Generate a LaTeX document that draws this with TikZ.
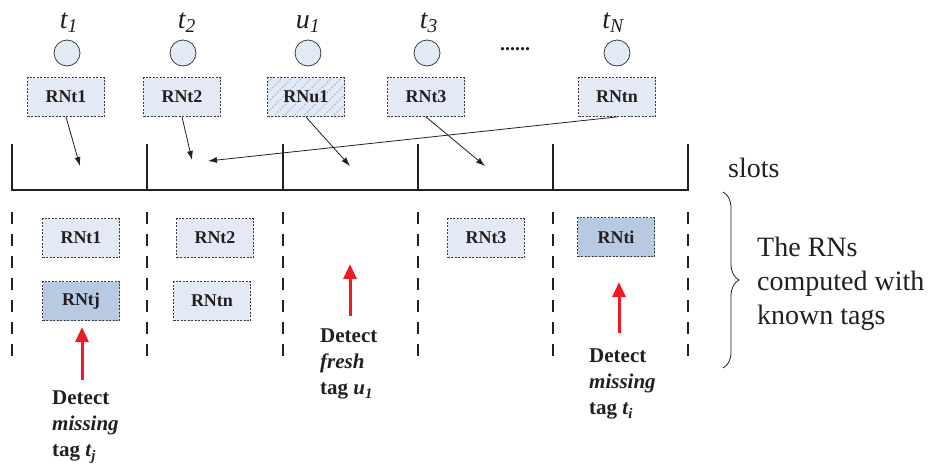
\documentclass[tikz,border=0pt]{standalone}
\usepackage{fontspec}
\setmainfont{LiberationSerif}[Extension=.ttf, UprightFont=*-Regular, BoldFont=*-Bold, ItalicFont=*-Italic, BoldItalicFont=*-BoldItalic]
\usetikzlibrary{arrows.meta,patterns.meta,decorations.pathreplacing}
\definecolor{boxfill}{RGB}{228,234,245}
\definecolor{darkfill}{RGB}{184,201,226}
\definecolor{hatch}{RGB}{172,192,218}
\definecolor{edge}{RGB}{60,60,60}
\definecolor{ink}{RGB}{35,31,32}
\definecolor{alert}{RGB}{236,28,36}
\begin{document}
\begin{tikzpicture}[x=1pt,y=-1pt, text=ink,
  rnbox/.style={draw=edge, dash pattern=on 2pt off 1.5pt, line width=0.8pt,
    fill=boxfill, minimum width=77pt, minimum height=39pt, inner sep=0pt,
    font=\fontsize{18}{20}\selectfont\bfseries},
  hitbox/.style={rnbox, fill=darkfill},
  freshbox/.style={rnbox, preaction={fill=boxfill},
    pattern={Lines[angle=45,distance=7pt,line width=1.1pt]}, pattern color=hatch},
  tagdot/.style={circle, draw=edge, line width=0.8pt, fill=boxfill,
    minimum size=26pt, inner sep=0pt},
  taglabel/.style={font=\fontsize{28}{30}\selectfont\itshape, inner sep=0pt, anchor=base},
  slotline/.style={draw=ink, line width=1.6pt},
  sepline/.style={draw=ink, line width=1.8pt, dash pattern=on 12pt off 10pt},
  pointer/.style={-{Latex[length=9pt,width=6pt]}, line width=0.8pt, draw=ink},
  detect/.style={-{Triangle[length=15pt,width=13pt]}, line width=3pt, draw=alert},
  note/.style={font=\fontsize{21}{26}\selectfont\bfseries, align=left,
    anchor=north west, inner sep=0pt},
  side/.style={font=\fontsize{28}{34}\selectfont, align=left, inner sep=0pt}]

\useasboundingbox (0,0) rectangle (931,469);

% tags and their labels
\node[taglabel] (l1) at (69,28) {t\textsubscript{1}};
\node[taglabel] (l2) at (187,28) {t\textsubscript{2}};
\node[taglabel] (lu) at (308,28) {u\textsubscript{1}};
\node[taglabel] (l3) at (429,28) {t\textsubscript{3}};
\node[taglabel] (ln) at (613,28) {t\textsubscript{N}};

\node[tagdot] (c1) at (67,53) {};
\node[tagdot] (c2) at (183,53) {};
\node[tagdot] (cu) at (308,53) {};
\node[tagdot] (c3) at (427,53) {};
\node[tagdot] (cn) at (617,53) {};
\node[font=\fontsize{20}{22}\selectfont\bfseries, inner sep=0pt] (dots) at (515,49) {......};

% random numbers sent by the tags
\node[rnbox]    (a1) at (66,97)  {RNt1};
\node[rnbox]    (a2) at (182,97) {RNt2};
\node[freshbox] (au) at (306,97) {RNu1};
\node[rnbox]    (a3) at (426,97) {RNt3};
\node[rnbox]    (an) at (617,97) {RNtn};

% slots
\draw[slotline] (12,144) |- (688,190) -- (688,144);
\foreach \x in {147,283,418,553} \draw[slotline] (\x,144) -- (\x,190);
\node[side, anchor=base west] (slots) at (728,177) {slots};

% where each random number lands
\coordinate (s1)  at (80,166);
\coordinate (s2)  at (192,160);
\coordinate (s2n) at (208,161);
\coordinate (s3)  at (350,166);
\coordinate (s4)  at (485,166);
\draw[pointer] (a1.south) -- (s1);
\draw[pointer] (a2.south) -- (s2);
\draw[pointer] (an.south) -- (s2n);
\draw[pointer] (au.south) -- (s3);
\draw[pointer] (a3.south) -- (s4);

% expected random numbers per slot
\foreach \x in {12,147,283,418,553,688} \draw[sepline] (\x,212) -- (\x,363);
\node[rnbox]  (e1) at (81,238)  {RNt1};
\node[hitbox] (ej) at (81,301)  {RNtj};
\node[rnbox]  (e2) at (215,238) {RNt2};
\node[rnbox]  (en) at (212,301) {RNtn};
\node[rnbox]  (e3) at (486,238) {RNt3};
\node[hitbox] (ei) at (616,237) {RNti};

% detections
\coordinate (d1) at (82,380);  \coordinate (d1t) at (82,327);
\coordinate (d3) at (350,316); \coordinate (d3t) at (350,264);
\coordinate (d5) at (619,333); \coordinate (d5t) at (619,282);
\draw[detect] (d1) -- (d1t);
\draw[detect] (d3) -- (d3t);
\draw[detect] (d5) -- (d5t);

\node[note] (n1) at (52,391) {Detect\\\textit{missing}\\tag \textit{t\textsubscript{j}}};
\node[note] (n3) at (320,329) {Detect\\\textit{fresh}\\tag \textit{u\textsubscript{1}}};
\node[note] (n5) at (589,349) {Detect\\\textit{missing}\\tag \textit{t\textsubscript{i}}};

% brace and its explanation
\coordinate (bt) at (723,192);
\coordinate (bb) at (723,368);
\draw[draw=ink, line width=0.8pt, decorate, decoration={brace, amplitude=16pt}] (bt) -- (bb);
\node[side, anchor=north west] (known) at (757,237) {The RNs\\computed with\\known tags};
\end{tikzpicture}
\end{document}
